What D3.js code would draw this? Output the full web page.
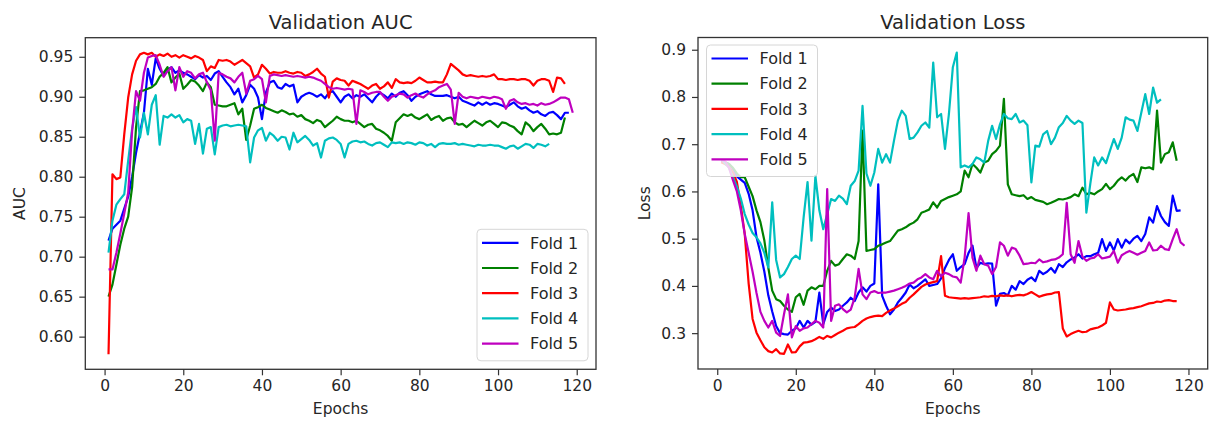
<!DOCTYPE html>
<html>
<head>
<meta charset="utf-8">
<script src="https://cdn.jsdelivr.net/npm/d3@7"></script>
<style>
  body { margin: 0; background: #fff; }
  svg { display: block; }
  text { font-family: "DejaVu Sans", sans-serif; fill: #262626; }
</style>
</head>
<body>
<svg id="chart" width="1209" height="423"></svg>
<script>
const folds = ["Fold 1", "Fold 2", "Fold 3", "Fold 4", "Fold 5"];
const foldColors = ["#0000ff", "#008000", "#ff0000", "#00bfbf", "#bf00bf"];

// validation AUC per epoch (epoch 1 first)
const aucFold1 = [0.720,0.735,0.740,0.745,0.760,0.775,0.800,0.830,0.855,0.880,0.935,0.915,0.948,0.935,0.926,0.934,0.937,0.930,0.933,0.930,
  0.928,0.925,0.922,0.927,0.924,0.926,0.921,0.929,0.932,0.925,0.918,0.912,0.903,0.910,0.893,0.902,0.915,0.910,0.899,0.872,
  0.905,0.918,0.920,0.912,0.910,0.916,0.913,0.915,0.893,0.900,0.903,0.905,0.903,0.900,0.903,0.898,0.905,0.907,0.900,0.893,
  0.900,0.903,0.898,0.902,0.900,0.903,0.898,0.893,0.900,0.905,0.902,0.898,0.904,0.900,0.905,0.907,0.902,0.895,0.900,0.903,
  0.905,0.907,0.903,0.901,0.901,0.901,0.902,0.900,0.898,0.900,0.895,0.893,0.891,0.889,0.893,0.890,0.893,0.890,0.892,0.891,
  0.889,0.887,0.890,0.893,0.888,0.885,0.887,0.883,0.880,0.882,0.878,0.876,0.880,0.881,0.877,0.872,0.880,0.880];
const aucFold2 = [0.650,0.665,0.690,0.715,0.735,0.750,0.787,0.862,0.907,0.908,0.910,0.912,0.916,0.925,0.930,0.937,0.918,0.924,0.929,0.910,
  0.915,0.921,0.919,0.914,0.907,0.918,0.912,0.890,0.889,0.888,0.888,0.890,0.892,0.878,0.885,0.846,0.864,0.885,0.887,0.890,
  0.886,0.884,0.882,0.880,0.883,0.881,0.878,0.879,0.875,0.877,0.872,0.870,0.867,0.871,0.869,0.862,0.866,0.870,0.875,0.872,
  0.870,0.870,0.868,0.870,0.866,0.862,0.865,0.866,0.860,0.858,0.855,0.851,0.845,0.868,0.873,0.878,0.876,0.878,0.874,0.872,
  0.875,0.878,0.871,0.874,0.876,0.870,0.873,0.874,0.868,0.865,0.866,0.862,0.866,0.870,0.867,0.864,0.868,0.870,0.866,0.862,
  0.868,0.867,0.864,0.862,0.857,0.853,0.868,0.864,0.857,0.862,0.866,0.860,0.853,0.854,0.853,0.855,0.874];
const aucFold3 = [0.578,0.803,0.797,0.799,0.853,0.899,0.928,0.945,0.953,0.955,0.953,0.955,0.950,0.953,0.951,0.954,0.950,0.952,0.949,0.952,
  0.950,0.948,0.951,0.949,0.946,0.932,0.938,0.936,0.946,0.945,0.946,0.944,0.940,0.943,0.946,0.942,0.938,0.924,0.928,0.940,
  0.935,0.929,0.931,0.930,0.930,0.932,0.930,0.929,0.931,0.930,0.926,0.928,0.931,0.935,0.929,0.925,0.899,0.919,0.923,0.921,
  0.920,0.914,0.920,0.918,0.916,0.913,0.910,0.914,0.916,0.910,0.913,0.918,0.911,0.922,0.918,0.917,0.918,0.917,0.920,0.924,
  0.921,0.918,0.918,0.919,0.918,0.918,0.928,0.941,0.937,0.933,0.928,0.926,0.927,0.926,0.925,0.926,0.925,0.926,0.928,0.922,
  0.922,0.921,0.922,0.922,0.921,0.922,0.922,0.920,0.914,0.920,0.922,0.922,0.920,0.906,0.924,0.923,0.916];
const aucFold4 = [0.705,0.745,0.765,0.772,0.778,0.820,0.860,0.887,0.849,0.880,0.853,0.890,0.902,0.840,0.876,0.874,0.878,0.874,0.877,0.868,
  0.872,0.870,0.841,0.866,0.829,0.860,0.862,0.828,0.862,0.864,0.865,0.863,0.864,0.865,0.864,0.863,0.818,0.849,0.858,0.861,
  0.845,0.855,0.851,0.845,0.850,0.849,0.834,0.855,0.843,0.847,0.851,0.846,0.839,0.842,0.824,0.845,0.848,0.849,0.846,0.841,
  0.824,0.841,0.844,0.845,0.843,0.844,0.841,0.839,0.842,0.843,0.840,0.837,0.843,0.842,0.843,0.841,0.843,0.842,0.840,0.843,
  0.842,0.839,0.841,0.837,0.841,0.842,0.841,0.841,0.842,0.840,0.841,0.840,0.839,0.838,0.840,0.839,0.839,0.840,0.839,0.839,
  0.837,0.835,0.838,0.839,0.835,0.838,0.841,0.840,0.836,0.841,0.840,0.838,0.841];
const aucFold5 = [0.684,0.684,0.705,0.729,0.754,0.780,0.857,0.907,0.895,0.930,0.949,0.951,0.952,0.940,0.925,0.932,0.937,0.908,0.937,0.925,
  0.932,0.930,0.923,0.928,0.930,0.918,0.908,0.845,0.930,0.928,0.925,0.923,0.918,0.925,0.930,0.904,0.920,0.922,0.926,0.922,
  0.893,0.926,0.928,0.927,0.926,0.927,0.926,0.925,0.926,0.925,0.924,0.925,0.924,0.922,0.920,0.916,0.912,0.910,0.911,0.910,
  0.909,0.910,0.909,0.866,0.908,0.906,0.903,0.905,0.906,0.906,0.900,0.895,0.900,0.902,0.904,0.903,0.899,0.902,0.904,0.901,
  0.899,0.903,0.906,0.908,0.912,0.914,0.916,0.909,0.866,0.905,0.900,0.898,0.900,0.899,0.898,0.900,0.899,0.898,0.900,0.899,
  0.897,0.885,0.895,0.897,0.893,0.891,0.892,0.890,0.891,0.889,0.892,0.890,0.891,0.893,0.896,0.899,0.899,0.897,0.880];

// validation loss per epoch (epoch 1 first)
const lossFold1 = [0.665,0.662,0.658,0.648,0.632,0.625,0.618,0.595,0.560,0.503,0.470,0.430,0.380,0.346,0.315,0.300,0.298,0.297,0.305,0.310,
  0.326,0.312,0.326,0.318,0.324,0.386,0.319,0.345,0.354,0.347,0.350,0.358,0.365,0.375,0.368,0.386,0.397,0.388,0.400,0.405,
  0.615,0.379,0.358,0.340,0.350,0.365,0.375,0.386,0.403,0.395,0.400,0.407,0.414,0.400,0.402,0.404,0.416,0.438,0.455,0.467,
  0.432,0.440,0.446,0.470,0.485,0.438,0.449,0.446,0.448,0.447,0.358,0.383,0.385,0.380,0.400,0.392,0.410,0.404,0.413,0.418,
  0.410,0.432,0.425,0.430,0.438,0.428,0.446,0.440,0.450,0.456,0.460,0.467,0.458,0.463,0.463,0.467,0.470,0.499,0.474,0.492,
  0.475,0.499,0.481,0.498,0.490,0.500,0.506,0.495,0.510,0.545,0.534,0.569,0.548,0.535,0.527,0.591,0.559,0.560];
const lossFold2 = [0.664,0.662,0.658,0.650,0.638,0.630,0.630,0.610,0.590,0.560,0.535,0.496,0.439,0.390,0.372,0.368,0.358,0.350,0.345,0.376,
  0.383,0.360,0.390,0.397,0.393,0.400,0.400,0.432,0.453,0.443,0.446,0.457,0.467,0.464,0.457,0.495,0.729,0.474,0.476,0.478,
  0.485,0.488,0.492,0.495,0.506,0.517,0.520,0.524,0.530,0.534,0.541,0.555,0.558,0.562,0.577,0.566,0.580,0.584,0.588,0.591,
  0.594,0.600,0.644,0.630,0.658,0.650,0.640,0.661,0.665,0.679,0.686,0.697,0.796,0.615,0.594,0.592,0.590,0.592,0.584,0.588,
  0.582,0.580,0.578,0.573,0.576,0.580,0.584,0.583,0.585,0.588,0.594,0.590,0.608,0.594,0.597,0.594,0.600,0.605,0.616,0.605,
  0.612,0.623,0.630,0.623,0.632,0.637,0.620,0.651,0.649,0.651,0.647,0.771,0.661,0.679,0.683,0.704,0.665];
const lossFold3 = [0.662,0.658,0.652,0.640,0.620,0.570,0.510,0.405,0.330,0.301,0.285,0.270,0.262,0.259,0.266,0.257,0.256,0.276,0.259,0.260,
  0.272,0.280,0.281,0.283,0.287,0.292,0.288,0.294,0.291,0.296,0.301,0.305,0.310,0.312,0.313,0.319,0.326,0.331,0.334,0.336,
  0.337,0.336,0.343,0.348,0.352,0.357,0.362,0.366,0.375,0.382,0.390,0.398,0.403,0.406,0.408,0.410,0.463,0.379,0.376,0.375,
  0.374,0.373,0.374,0.373,0.374,0.375,0.376,0.378,0.377,0.379,0.378,0.380,0.379,0.380,0.378,0.380,0.381,0.380,0.383,0.387,
  0.382,0.377,0.380,0.382,0.383,0.386,0.387,0.310,0.293,0.298,0.302,0.305,0.302,0.303,0.308,0.310,0.312,0.316,0.322,0.365,
  0.350,0.348,0.349,0.350,0.352,0.353,0.355,0.357,0.360,0.363,0.364,0.367,0.366,0.369,0.370,0.368,0.368];
const lossFold4 = [0.668,0.660,0.650,0.630,0.610,0.585,0.552,0.530,0.512,0.503,0.490,0.470,0.439,0.577,0.455,0.418,0.425,0.440,0.457,0.464,
  0.457,0.545,0.620,0.496,0.633,0.560,0.520,0.552,0.584,0.580,0.591,0.585,0.573,0.612,0.622,0.644,0.781,0.638,0.612,0.640,
  0.690,0.661,0.679,0.661,0.707,0.750,0.771,0.760,0.711,0.714,0.725,0.739,0.746,0.735,0.873,0.757,0.764,0.690,0.764,0.863,
  0.894,0.651,0.655,0.651,0.658,0.672,0.668,0.661,0.707,0.739,0.711,0.742,0.764,0.755,0.753,0.764,0.746,0.750,0.740,0.619,
  0.697,0.695,0.721,0.728,0.700,0.714,0.736,0.745,0.760,0.750,0.743,0.750,0.745,0.555,0.616,0.672,0.655,0.672,0.660,0.686,
  0.711,0.690,0.714,0.757,0.752,0.750,0.728,0.767,0.806,0.764,0.820,0.788,0.795];
const lossFold5 = [0.666,0.664,0.650,0.624,0.600,0.560,0.510,0.470,0.430,0.385,0.345,0.326,0.312,0.326,0.301,0.294,0.340,0.382,0.291,0.315,
  0.305,0.310,0.312,0.319,0.326,0.322,0.312,0.605,0.326,0.358,0.361,0.351,0.344,0.350,0.375,0.436,0.382,0.372,0.386,0.389,
  0.385,0.386,0.386,0.388,0.390,0.393,0.396,0.400,0.405,0.407,0.414,0.418,0.425,0.418,0.414,0.432,0.420,0.428,0.425,0.420,
  0.418,0.407,0.460,0.554,0.460,0.432,0.464,0.446,0.443,0.425,0.440,0.492,0.485,0.464,0.481,0.478,0.464,0.446,0.447,0.449,
  0.448,0.456,0.450,0.452,0.455,0.456,0.460,0.467,0.576,0.467,0.449,0.495,0.462,0.453,0.458,0.460,0.467,0.458,0.460,0.462,
  0.474,0.449,0.465,0.470,0.474,0.470,0.466,0.470,0.474,0.492,0.475,0.476,0.485,0.478,0.476,0.499,0.520,0.492,0.485];

const epochTicks = [0, 20, 40, 60, 80, 100, 120];
const aucTicks = [0.60, 0.65, 0.70, 0.75, 0.80, 0.85, 0.90, 0.95];
const lossTicks = [0.3, 0.4, 0.5, 0.6, 0.7, 0.8, 0.9];

const svg = d3.select("#chart");

function panel(cfg) {
    const {left, top, width, height} = cfg;
    const g = svg.append("g").attr("transform", `translate(${left},${top})`);

    const allX = [], allY = [];
    cfg.series.forEach(s => s.forEach((v, i) => { allX.push(i + 1); allY.push(v); }));
    // matplotlib style 5% margins
    const pad = ([a, b]) => [a - (b - a) * 0.05, b + (b - a) * 0.05];
    const x = d3.scaleLinear().domain(pad(d3.extent(allX))).range([0, width]);
    const y = d3.scaleLinear().domain(pad(d3.extent(allY))).range([height, 0]);

    const line = d3.line().x((d, i) => x(i + 1)).y(d => y(d));

    g.append("g")
        .attr("fill", "none")
        .attr("stroke-width", 2.2)
        .attr("stroke-linejoin", "round")
        .selectAll("path")
        .data(cfg.series)
        .join("path")
        .attr("stroke", (d, i) => foldColors[i])
        .attr("d", line);

    const xAxis = g.append("g")
        .attr("transform", `translate(0,${height})`)
        .call(d3.axisBottom(x).tickValues(epochTicks).tickSize(6).tickPadding(5));
    const yAxis = g.append("g")
        .call(d3.axisLeft(y).tickValues(cfg.ticks).tickFormat(d3.format(cfg.fmt)).tickSize(6).tickPadding(6));
    [xAxis, yAxis].forEach(a => {
        a.select(".domain").remove();
        a.selectAll("line").attr("stroke", "#333").attr("stroke-width", 1.2);
        a.selectAll("text").attr("font-size", 15.5).attr("font-family", "DejaVu Sans").attr("fill", "#262626");
    });

    g.append("rect")
        .attr("width", width).attr("height", height)
        .attr("fill", "none").attr("stroke", "#333").attr("stroke-width", 1.3);

    g.append("text")
        .attr("x", width / 2).attr("y", -9)
        .attr("text-anchor", "middle")
        .attr("font-size", 19.5)
        .text(cfg.title);
    g.append("text")
        .attr("x", width / 2).attr("y", height + 45)
        .attr("text-anchor", "middle")
        .attr("font-size", 15.5)
        .text("Epochs");
    g.append("text")
        .attr("transform", `translate(${cfg.ylabelX},${height / 2}) rotate(-90)`)
        .attr("text-anchor", "middle")
        .attr("font-size", 15.5)
        .text(cfg.ylabel);

    // legend
    const lw = 111, lh = 131.5, rowH = 25.2;
    const lx = cfg.legend === "lower right" ? width - lw - 8 : 8.5;
    const ly = cfg.legend === "lower right" ? height - lh - 8.5 : 7.5;
    const leg = g.append("g").attr("transform", `translate(${lx},${ly})`);
    leg.append("rect")
        .attr("width", lw).attr("height", lh).attr("rx", 4)
        .attr("fill", "#fff").attr("fill-opacity", 0.8)
        .attr("stroke", "#d6d6d6").attr("stroke-width", 1);
    const item = leg.selectAll("g.item")
        .data(folds)
        .join("g")
        .attr("class", "item")
        .attr("transform", (d, i) => `translate(0,${13.5 + i * rowH})`);
    item.append("line")
        .attr("x1", 5).attr("x2", 41.5)
        .attr("stroke", (d, i) => foldColors[i])
        .attr("stroke-width", 2.2);
    item.append("text")
        .attr("x", 53).attr("dy", "0.36em")
        .attr("font-size", 16)
        .text(d => d);
}

panel({
    left: 85.3, top: 37.7, width: 510.7, height: 331.6,
    title: "Validation AUC", ylabel: "AUC", ylabelX: -60,
    series: [aucFold1, aucFold2, aucFold3, aucFold4, aucFold5],
    ticks: aucTicks, fmt: ".2f", legend: "lower right"
});
panel({
    left: 698, top: 37.5, width: 509.7, height: 331.5,
    title: "Validation Loss", ylabel: "Loss", ylabelX: -48,
    series: [lossFold1, lossFold2, lossFold3, lossFold4, lossFold5],
    ticks: lossTicks, fmt: ".1f", legend: "upper left"
});
</script>
</body>
</html>
